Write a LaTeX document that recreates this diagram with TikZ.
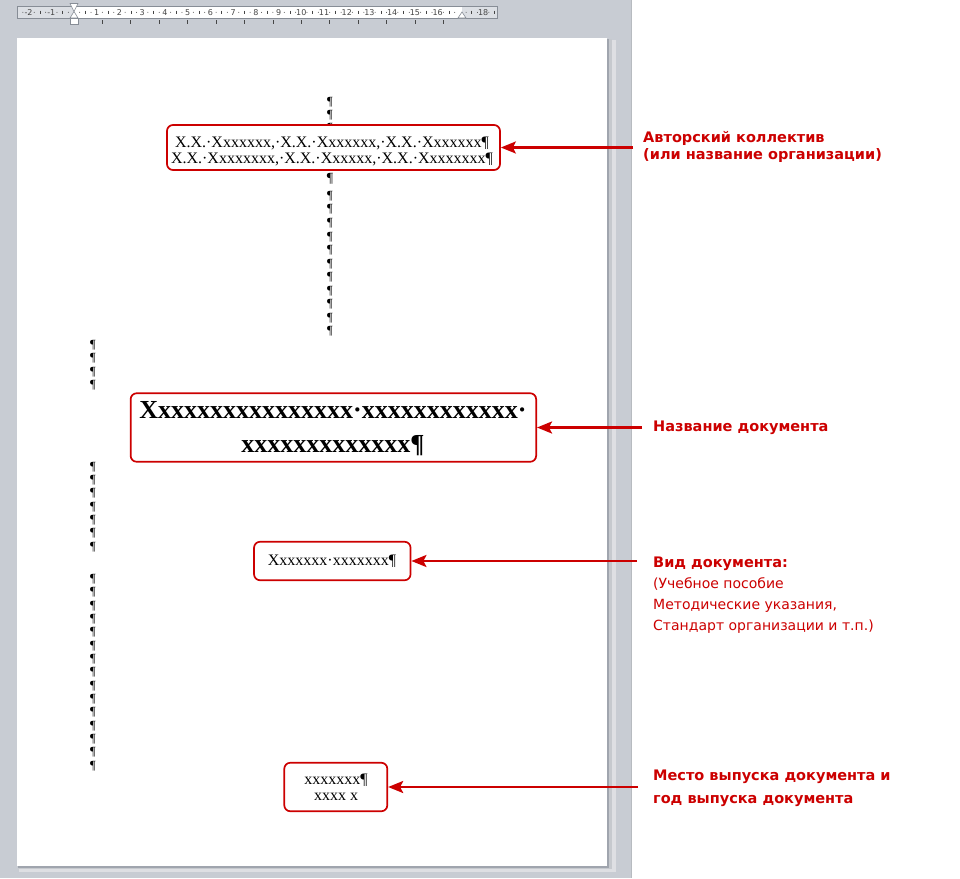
\documentclass[tikz,border=0pt]{standalone}
\usepackage{fontspec}
\setmainfont{Liberation Serif}
\newfontfamily\lblfont{DejaVu Sans}
\newfontfamily\rulfont{DejaVu Sans}
\usetikzlibrary{arrows.meta}
\definecolor{wordred}{RGB}{204,0,0}
\definecolor{bggray}{RGB}{200,204,211}
\definecolor{shadowgray}{RGB}{160,165,174}
\definecolor{rulerbg}{RGB}{220,223,228}
\definecolor{rulerline}{RGB}{135,141,150}
\definecolor{rulertext}{RGB}{70,70,70}
\begin{document}
\begin{tikzpicture}[x=1pt,y=-1pt,
  box/.style={draw=wordred, line width=1.7pt, rounded corners=6pt, fill=white, inner sep=0pt},
  arr/.style={draw=wordred, line width=2.4pt, -{Stealth[length=15pt,width=12pt,inset=3pt]}},
  lbl/.style={anchor=base west, inner sep=0pt, text=wordred, font=\lblfont\fontsize{14.5}{17}\selectfont\bfseries},
  lblr/.style={anchor=base west, inner sep=0pt, text=wordred, font=\lblfont\fontsize{14}{17}\selectfont},
  doc/.style={anchor=base, inner sep=0pt, font=\fontsize{16}{16}\selectfont},
  ttl/.style={anchor=base, inner sep=0pt, font=\fontsize{26}{26}\selectfont\bfseries},
  pil/.style={anchor=north, inner sep=0pt, font=\fontsize{12.5}{12.5}\selectfont},
  rnum/.style={inner sep=0pt, text=rulertext, font=\rulfont\fontsize{8}{8}\selectfont},
  marker/.style={fill=white, draw=rulerline, line width=0.6pt}
]
\useasboundingbox (0,0) rectangle (960,878);
% background of the window
\fill[white] (0,0) rectangle (960,878);
\fill[bggray] (0,0) rectangle (631,878);
\draw[rulerline!60, line width=0.8pt] (631,0) -- (631,878);
% page with shadow
\fill[shadowgray!35] (19,40) rectangle (616,872);
\fill[shadowgray!60] (18,39) rectangle (612,869);
\fill[shadowgray] (18,39) rectangle (609,868);
\fill[white] (17,38) rectangle (607,866);
% ruler
\fill[rulerbg] (17,6) rectangle (497,18.5);
\fill[white] (74,6) rectangle (462,18.5);
\foreach \n in {-2,-1,1,2,...,16,18} {
  \node[rnum] (rn\n) at ({74+22.73*\n},12.3) {\n};
}
\foreach \n in {-3,-2,...,18} {
  \fill[rulertext] ({74+22.73*(\n+0.25)},12.3) circle (0.5);
  \fill[rulertext] ({74+22.73*(\n+0.75)},12.3) circle (0.5);
  \draw[rulertext, line width=0.6pt] ({74+22.73*(\n+0.5)},10.5) -- ({74+22.73*(\n+0.5)},14);
}
\fill[bggray] (0,0) rectangle (16.6,19);
\fill[bggray] (497.4,0) rectangle (631,19);
\draw[rulerline, line width=0.6pt] (17,6) rectangle (497,18.5);
% tab stops
\foreach \k in {1,...,13} {
  \draw[rulertext, line width=0.7pt] ({74+28.42*\k},20) -- ({74+28.42*\k},23.5);
}
% indent markers
\draw[marker] (70,3.5) -- (78,3.5) -- (74,11.5) -- cycle;
\draw[marker] (74,11.5) -- (78,18) -- (70,18) -- cycle;
\draw[marker] (70,18) rectangle (78,24);
\draw[marker] (462,12) -- (466,18) -- (458,18) -- cycle;
% paragraph marks, centre column
\foreach \t [count=\i] in {97,110,123} {
  \node[pil] (pc\i) at (330,\t) {¶};
}
\node[pil, font=\fontsize{14}{14}\selectfont] (pcb) at (330,173) {¶};
\foreach \k in {0,...,10} {
  \node[pil] (pd\k) at (330,{191+13.55*\k}) {¶};
}
% paragraph marks, left column
\foreach \k in {0,...,3} {
  \node[pil] (pl\k) at (93,{340+13.4*\k}) {¶};
}
\foreach \k in {0,...,6} {
  \node[pil] (pm\k) at (93,{461.7+13.35*\k}) {¶};
}
\foreach \k in {0,...,14} {
  \node[pil] (pn\k) at (93,{574+13.35*\k}) {¶};
}
% boxes
\node[box, minimum width=333pt, minimum height=45pt] (auth) at (333.5,147.5) {};
\node[doc] (auth1) at (332,147.3) {X.X.·Xxxxxxx,·X.X.·Xxxxxxx,·X.X.·Xxxxxxx¶};
\node[doc] (auth2) at (332,163.3) {X.X.·Xxxxxxxx,·X.X.·Xxxxxx,·X.X.·Xxxxxxxx¶};

\node[box, minimum width=405.5pt, minimum height=68.5pt] (title) at (333.4,427.5) {};
\node[ttl] (title1) at (333,418) {Xxxxxxxxxxxxxxxx·xxxxxxxxxxxx·};
\node[ttl] (title2) at (333,452) {xxxxxxxxxxxxx¶};

\node[box, minimum width=156.5pt, minimum height=38.5pt] (kind) at (332.3,561) {};
\node[doc] (kind1) at (332,565.5) {Xxxxxxx·xxxxxxx¶};

\node[box, minimum width=103pt, minimum height=48.5pt] (place) at (335.8,787) {};
\node[doc] (place1) at (336,784) {xxxxxxx¶};
\node[doc] (place2) at (336,800) {xxxx x};

% labels
\node[lbl] (l1) at (643,142) {Авторский коллектив};
\node[lbl] (l1b) at (643,159) {(или название организации)};
\node[lbl] (l2) at (653,431) {Название документа};
\node[lbl] (l3) at (653,567) {Вид документа:};
\node[lblr] (l3a) at (653,588) {(Учебное пособие};
\node[lblr] (l3b) at (653,609) {Методические указания,};
\node[lblr] (l3c) at (653,630) {Стандарт организации и т.п.)};
\node[lbl] (l4) at (653,780) {Место выпуска документа и};
\node[lbl] (l4b) at (653,803) {год выпуска документа};

% arrows
\coordinate (a1) at (633,147.5);
\coordinate (a2) at (642,427.5);
\coordinate (a3) at (637,561);
\coordinate (a4) at (638,787);
\draw[arr] (a1) -- (auth);
\draw[arr] (a2) -- (title);
\draw[arr] (a3) -- (kind);
\draw[arr] (a4) -- (place);
\end{tikzpicture}
\end{document}
